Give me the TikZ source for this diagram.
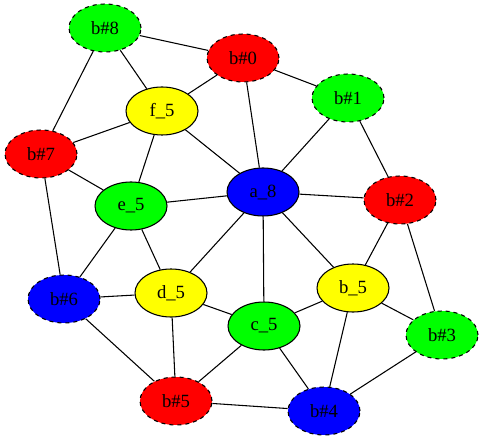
\documentclass[tikz,border=0pt]{standalone}
\usepackage{fontspec}
\setmainfont{Liberation Serif}
\usetikzlibrary{shapes.geometric}

\begin{document}
\begin{tikzpicture}[x=0.75pt, y=-0.75pt, line width=0.8pt,
  vert/.style={ellipse, draw, minimum width=54pt, minimum height=36pt, inner sep=0pt, font=\fontsize{14}{16}\selectfont},
  bnode/.style={vert, dashed},
  green/.style={fill={rgb,255:red,0;green,255;blue,0}},
  red/.style={fill={rgb,255:red,255;green,0;blue,0}},
  blue/.style={fill={rgb,255:red,0;green,0;blue,255}},
  yellow/.style={fill={rgb,255:red,255;green,255;blue,0}}]
  \useasboundingbox (0,0) rectangle (484,441);

  % inner nodes
  \node[vert, blue] (a8) at (263,192) {a\_8};
  \node[vert, yellow] (f5) at (162,111) {f\_5};
  \node[vert, green] (e5) at (131,206) {e\_5};
  \node[vert, yellow] (d5) at (171,293) {d\_5};
  \node[vert, green] (c5) at (264,326) {c\_5};
  \node[vert, yellow] (b5) at (353,288) {b\_5};

  % outer ring
  \node[bnode, red] (bn0) at (243,58) {b\#0};
  \node[bnode, green] (bn1) at (348,98) {b\#1};
  \node[bnode, red] (bn2) at (400,200) {b\#2};
  \node[bnode, green] (bn3) at (442,335) {b\#3};
  \node[bnode, blue] (bn4) at (324,411) {b\#4};
  \node[bnode, red] (bn5) at (176,401) {b\#5};
  \node[bnode, blue] (bn6) at (64,299) {b\#6};
  \node[bnode, red] (bn7) at (41,154) {b\#7};
  \node[bnode, green] (bn8) at (105,28) {b\#8};

  % edges
  \draw (bn8) -- (bn0);
  \draw (bn8) -- (f5);
  \draw (bn8) -- (bn7);
  \draw (bn0) -- (f5);
  \draw (bn0) -- (a8);
  \draw (bn0) -- (bn1);
  \draw (f5) -- (bn7);
  \draw (f5) -- (e5);
  \draw (f5) -- (a8);
  \draw (bn1) -- (a8);
  \draw (bn1) -- (bn2);
  \draw (bn7) -- (e5);
  \draw (bn7) -- (bn6);
  \draw (a8) -- (e5);
  \draw (a8) -- (bn2);
  \draw (a8) -- (d5);
  \draw (a8) -- (c5);
  \draw (a8) -- (b5);
  \draw (bn2) -- (b5);
  \draw (bn2) -- (bn3);
  \draw (e5) -- (bn6);
  \draw (e5) -- (d5);
  \draw (bn6) -- (d5);
  \draw (bn6) -- (bn5);
  \draw (d5) -- (c5);
  \draw (d5) -- (bn5);
  \draw (c5) -- (b5);
  \draw (c5) -- (bn5);
  \draw (c5) -- (bn4);
  \draw (b5) -- (bn3);
  \draw (b5) -- (bn4);
  \draw (bn3) -- (bn4);
  \draw (bn5) -- (bn4);
\end{tikzpicture}
\end{document}
